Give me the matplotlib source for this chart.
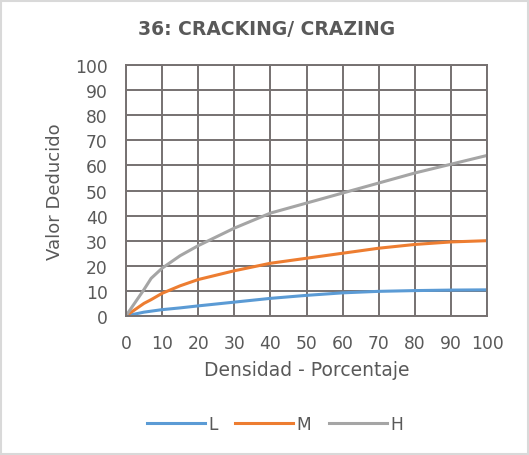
import matplotlib.pyplot as plt
from matplotlib.patches import Rectangle

# datos
densidad = [0, 5, 7, 10, 15, 20, 30, 40, 50, 60, 70, 80, 90, 100]
valor_L = [0, 1.5, 1.9, 2.5, 3.2, 4.0, 5.5, 7.0, 8.2, 9.2, 9.8, 10.1, 10.3, 10.4]
valor_M = [0, 5.0, 6.5, 9.0, 12.0, 14.5, 18.0, 21.0, 23.0, 25.0, 27.0, 28.5, 29.5, 30.0]
valor_H = [0, 10.5, 15.0, 19.0, 24.0, 28.0, 35.0, 41.0, 45.0, 49.0, 53.0, 57.0, 60.5, 64.0]

TXT = '#595959'
GRID = '#767171'
plt.rcParams['font.family'] = ['DejaVu Sans']

fig = plt.figure(figsize=(5.29, 4.56), dpi=100)
ax = fig.add_axes([0.238, 0.305, 0.683, 0.55])

ax.plot(densidad, valor_L, color='#5B9BD5', lw=2.2, label='L')
ax.plot(densidad, valor_M, color='#ED7D31', lw=2.2, label='M')
ax.plot(densidad, valor_H, color='#A5A5A5', lw=2.2, label='H')

ax.set_xlim(0, 100)
ax.set_ylim(0, 100)
ax.set_xticks(range(0, 101, 10))
ax.set_yticks(range(0, 101, 10))
ax.grid(True, color=GRID, lw=1.4)
ax.set_axisbelow(True)
for s in ax.spines.values():
    s.set_color(GRID)
    s.set_linewidth(1.4)
ax.tick_params(axis='y', length=0, labelsize=12.3, colors=TXT, pad=13)
ax.tick_params(axis='x', length=0, labelsize=12.3, colors=TXT, pad=13)

ax.set_xlabel('Densidad - Porcentaje', fontsize=13.5, color=TXT, labelpad=6)
ax.set_ylabel('Valor Deducido', fontsize=13, color=TXT, labelpad=8)
fig.text(0.503, 0.935, '36: CRACKING/ CRAZING', ha='center', va='center',
         fontsize=13.5, fontweight='bold', color=TXT)

fig.legend(loc='center', bbox_to_anchor=(0.52, 0.068), ncol=3, frameon=False,
           fontsize=12.3, labelcolor=TXT, handlelength=3.4, handletextpad=0.2,
           columnspacing=1.0)

fig.patches.append(Rectangle((0.002, 0.002), 0.996, 0.994, transform=fig.transFigure,
                             fill=False, edgecolor='#D9D9D9', lw=1.5))

fig.savefig('out.png', dpi=100)
